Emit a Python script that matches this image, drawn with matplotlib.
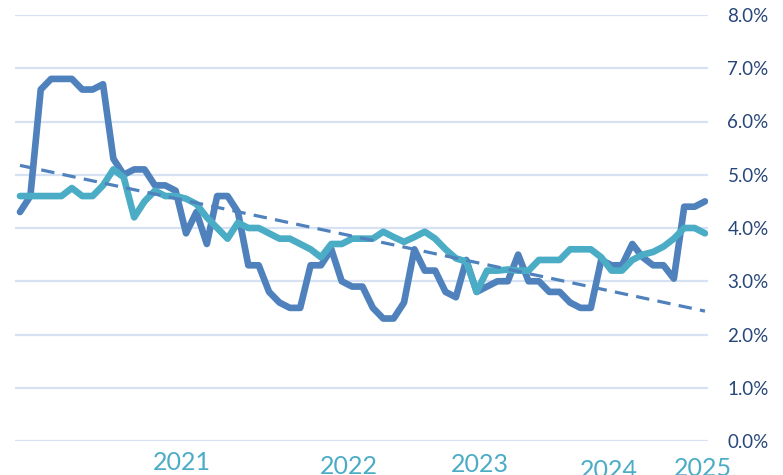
import numpy as np
import matplotlib
matplotlib.use("Agg")
import matplotlib.pyplot as plt
from matplotlib.ticker import FuncFormatter

# Monthly rates (%), oldest first
rate_a = [4.3, 4.6, 6.6, 6.8, 6.8, 6.8, 6.6, 6.6, 6.7, 5.3,
          5.0, 5.1, 5.1, 4.8, 4.8, 4.7, 3.9, 4.3, 3.7, 4.6,
          4.6, 4.3, 3.3, 3.3, 2.8, 2.6, 2.5, 2.5, 3.3, 3.3,
          3.6, 3.0, 2.9, 2.9, 2.5, 2.3, 2.3, 2.6, 3.6, 3.2,
          3.2, 2.8, 2.7, 3.4, 2.8, 2.9, 3.0, 3.0, 3.5, 3.0,
          3.0, 2.8, 2.8, 2.6, 2.5, 2.5, 3.4, 3.3, 3.3, 3.7,
          3.45, 3.3, 3.3, 3.05, 4.4, 4.4, 4.5]

rate_b = [4.6, 4.6, 4.6, 4.6, 4.6, 4.75, 4.6, 4.6, 4.8, 5.1,
          4.95, 4.2, 4.5, 4.7, 4.6, 4.6, 4.55, 4.45, 4.2, 4.0,
          3.8, 4.1, 4.0, 4.0, 3.9, 3.8, 3.8, 3.7, 3.6, 3.45,
          3.7, 3.7, 3.8, 3.8, 3.8, 3.93, 3.83, 3.74, 3.83, 3.93,
          3.8, 3.6, 3.43, 3.37, 2.8, 3.2, 3.2, 3.22, 3.2, 3.2,
          3.4, 3.4, 3.4, 3.6, 3.6, 3.6, 3.45, 3.2, 3.2, 3.4,
          3.5, 3.55, 3.65, 3.8, 4.0, 4.0, 3.9]

year_labels = ["2021", "2022", "2023", "2024", "2025"]
year_label_x = [15.6, 31.7, 44.3, 56.7, 65.8]          # month index of each label
year_label_y = [-0.068, -0.078, -0.073, -0.087, -0.082]  # axes fraction (baseline)

y_ticks = [0, 1, 2, 3, 4, 5, 6, 7, 8]

DARK = "#4F81BD"
TEAL = "#4BACC6"
GRID = "#D6E2F3"
NAVY = "#274679"

plt.rcParams["font.family"] = ["Lato", "DejaVu Sans"]

fig = plt.figure(figsize=(7.83, 4.75), dpi=100)
ax = fig.add_axes([15 / 783, 34 / 475, 693 / 783, 426 / 475])

x = np.arange(len(rate_a))

for v in y_ticks:
    ax.axhline(v, color=GRID, lw=1.6, zorder=0)

ax.plot(x, rate_a, color=DARK, lw=4.8, solid_joinstyle="round",
        solid_capstyle="round", zorder=2)
ax.plot(x, rate_b, color=TEAL, lw=4.8, solid_joinstyle="round",
        solid_capstyle="round", zorder=3)

# linear trend of the first series
slope, intercept = np.polyfit(x, rate_a, 1)
ax.plot(x, intercept + slope * x, color=DARK, lw=2.3,
        dashes=(4.2, 2.6), zorder=4)

ax.set_xlim(-0.48, len(rate_a) - 1 + 0.29)
ax.set_ylim(0, 8)
ax.set_yticks(y_ticks)
ax.yaxis.tick_right()
ax.yaxis.set_major_formatter(FuncFormatter(lambda v, p: f"{v:.1f}%"))
ax.tick_params(axis="y", length=0, pad=14, labelsize=13.5, labelcolor=NAVY)
ax.set_xticks([])
for s in ax.spines.values():
    s.set_visible(False)

for lab, lx, ly in zip(year_labels, year_label_x, year_label_y):
    ax.text(lx, ly, lab, transform=ax.get_xaxis_transform(), ha="center",
            va="baseline", fontsize=18, color=TEAL, clip_on=False)

fig.savefig("out.png", dpi=100)
